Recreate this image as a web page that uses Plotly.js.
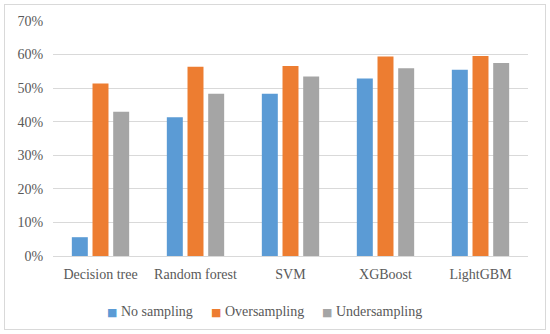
<!DOCTYPE html>
<html>
<head>
<meta charset="utf-8">
<script src="https://cdn.plot.ly/plotly-3.0.1.min.js"></script>
<style>
html,body{margin:0;padding:0;background:#fff;}
#wrap{position:relative;width:550px;height:334px;}
#chart{width:550px;height:334px;}
#frame{position:absolute;left:4px;top:4px;width:540px;height:324px;border:1px solid #d9d9d9;pointer-events:none;}
</style>
</head>
<body>
<div id="wrap"><div id="chart"></div><div id="frame"></div></div>
<script>
const categories = ["Decision tree", "Random forest", "SVM", "XGBoost", "LightGBM"];
const noSampling = [0.056, 0.413, 0.483, 0.529, 0.555];
const overSampling = [0.514, 0.564, 0.566, 0.594, 0.596];
const underSampling = [0.430, 0.483, 0.535, 0.559, 0.575];
const seriesNames = ["No sampling", "Oversampling", "Undersampling"];
const colors = ["#5B9BD5", "#ED7D31", "#A5A5A5"];

const data = [noSampling, overSampling, underSampling].map((vals, i) => ({
  type: "bar",
  x: categories,
  y: vals,
  name: seriesNames[i],
  marker: {color: colors[i]},
  hoverinfo: "none"
}));

// legend drawn as text annotations to match the compact reference legend
const legendX = [0.109, 0.328, 0.562];
const annotations = seriesNames.map((n, i) => ({
  xref: "paper", yref: "paper",
  x: legendX[i], y: -0.238,
  xanchor: "left", yanchor: "middle",
  showarrow: false,
  text: "<span style='color:" + colors[i] + ";font-family:DejaVu Sans;font-size:11px'>■</span> " + n,
  font: {size: 14, color: "#595959"}
}));

const layout = {
  width: 550, height: 334,
  margin: {l: 53, r: 22, t: 21, b: 78, autoexpand: false},
  paper_bgcolor: "#ffffff",
  plot_bgcolor: "#ffffff",
  barmode: "group",
  bargap: 0.347,
  bargroupgap: 0.227,
  font: {family: "'Liberation Serif', 'DejaVu Serif', serif", size: 14, color: "#595959"},
  showlegend: false,
  annotations: annotations,
  xaxis: {
    type: "category",
    showgrid: false,
    showline: true, linecolor: "#d9d9d9", linewidth: 1,
    ticks: "outside", ticklen: 5, tickcolor: "rgba(0,0,0,0)",
    tickfont: {size: 14, color: "#595959"},
    fixedrange: true
  },
  yaxis: {
    range: [0, 0.7],
    dtick: 0.1,
    tickformat: ".0%",
    showgrid: true, gridcolor: "#d9d9d9", gridwidth: 1,
    zeroline: false,
    showline: false,
    ticks: "outside", ticklen: 6, tickcolor: "rgba(0,0,0,0)",
    tickfont: {size: 14, color: "#595959"},
    fixedrange: true
  }
};

Plotly.newPlot("chart", data, layout, {displayModeBar: false, staticPlot: true});
</script>
</body>
</html>
